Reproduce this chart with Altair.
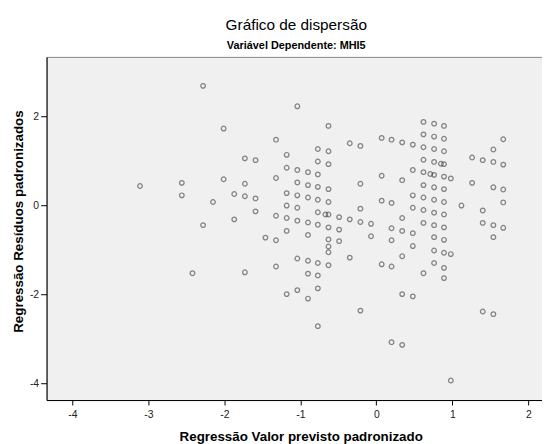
import altair as alt
import pandas as pd

# Standardized predicted value (x) and standardized residual (y)
x_vals = [
    -2.28, -2.01, -3.11, -2.56, -2.56, -2.01, -1.87, -2.15, -1.87, -2.28,
    -2.42, -1.04, -0.63, -1.32, -0.35, -0.21, 0.07, 0.20, 0.34, -0.77,
    -0.63, -1.18, -1.73, -1.59, -0.77, -0.63, -1.18, -1.04, -0.90, -0.77,
    -1.32, 0.07, 0.34, -1.73, -1.04, -0.90, -0.77, -0.63, -0.21, -1.73,
    -1.59, -1.18, -1.04, -0.90, -0.77, -0.63, 0.07, 0.20, -1.18, -1.04,
    -0.21, -1.59, -1.32, -1.18, -1.04, -0.77, -0.67, -0.63, -0.49, -0.35,
    -0.21, -0.07, 0.34, -0.90, -0.77, -0.63, -0.49, -1.18, 0.20, 0.34,
    -1.46, -1.32, -0.90, -0.63, -0.07, -0.49, 0.20, -0.63, -0.63, -1.04,
    -0.90, -0.77, -0.63, -0.35, 0.07, -1.73, -1.32, -0.90, -0.77, -0.77,
    -1.04, -1.18, -0.90, -0.21, -0.77, 0.62, 0.76, 0.89, 0.62, 0.76,
    0.89, 0.48, 0.62, 0.76, 0.89, 1.67, 1.54, 0.62, 0.76, 0.85,
    0.89, 1.26, 1.40, 1.54, 1.67, 0.48, 0.62, 0.71, 0.76, 0.89,
    0.98, 1.26, 0.62, 0.76, 0.89, 1.54, 1.67, 0.48, 0.62, 0.76,
    0.89, 1.67, 1.12, 0.48, 0.62, 0.76, 0.89, 1.40, 0.62, 0.76,
    0.89, 1.40, 1.54, 1.67, 0.48, 0.76, 0.89, 1.54, 0.48, 0.34,
    0.76, 0.89, 0.98, 0.20, 0.62, 0.76, 0.89, 0.89, 0.34, 0.48,
    1.40, 1.54, 0.20, 0.34, 0.98,
]
y_vals = [
    2.69, 1.73, 0.44, 0.51, 0.23, 0.59, 0.26, 0.08, -0.31, -0.44,
    -1.52, 2.23, 1.79, 1.48, 1.40, 1.34, 1.52, 1.48, 1.42, 1.27,
    1.22, 1.14, 1.06, 1.02, 0.99, 0.93, 0.85, 0.80, 0.75, 0.70,
    0.62, 0.67, 0.57, 0.49, 0.52, 0.46, 0.42, 0.37, 0.49, 0.21,
    0.16, 0.28, 0.23, 0.18, 0.13, 0.08, 0.11, 0.06, 0.00, -0.05,
    -0.07, -0.13, -0.23, -0.28, -0.34, -0.15, -0.20, -0.20, -0.26, -0.31,
    -0.37, -0.41, -0.28, -0.38, -0.43, -0.49, -0.54, -0.57, -0.51, -0.57,
    -0.72, -0.78, -0.66, -0.76, -0.69, -0.80, -0.78, -0.92, -1.05, -1.19,
    -1.24, -1.29, -1.34, -1.17, -1.32, -1.50, -1.37, -1.53, -1.57, -1.86,
    -1.90, -1.99, -2.09, -2.36, -2.71, 1.88, 1.84, 1.79, 1.60, 1.55,
    1.50, 1.37, 1.31, 1.27, 1.22, 1.49, 1.26, 1.03, 0.98, 0.94,
    0.93, 1.08, 1.02, 0.98, 0.92, 0.80, 0.75, 0.71, 0.69, 0.65,
    0.61, 0.51, 0.46, 0.41, 0.37, 0.41, 0.36, 0.23, 0.18, 0.13,
    0.08, 0.07, 0.00, -0.05, -0.10, -0.16, -0.20, -0.11, -0.39, -0.44,
    -0.49, -0.39, -0.44, -0.50, -0.62, -0.71, -0.77, -0.71, -0.91, -1.14,
    -1.01, -1.06, -1.09, -1.37, -1.52, -1.29, -1.40, -1.63, -1.99, -2.04,
    -2.38, -2.44, -3.07, -3.13, -3.93,
]

x_ticks = [-4, -3, -2, -1, 0, 1, 2]
y_ticks = [-4, -2, 0, 2]

df = pd.DataFrame({"x": x_vals, "y": y_vals})

FONT = "Liberation Sans"

chart = (
    alt.Chart(df)
    .mark_point(shape="circle", filled=False, size=22, strokeWidth=1.25,
                color="#222222", strokeOpacity=0.75)
    .encode(
        x=alt.X("x:Q",
                scale=alt.Scale(domain=[-4.34, 2.18], nice=False, zero=False),
                axis=alt.Axis(values=x_ticks, title="Regressão Valor previsto padronizado",
                              labelExpr="'' + datum.value",
                              grid=False, tickSize=5, labelPadding=5,
                              titlePadding=9.5, titleX=257)),
        y=alt.Y("y:Q",
                scale=alt.Scale(domain=[-4.37, 3.34], nice=False, zero=False),
                axis=alt.Axis(values=y_ticks, title="Regressão Resíduos padronizados",
                              labelExpr="'' + datum.value",
                              grid=False, tickSize=6, labelPadding=2,
                              titlePadding=4.5, titleY=166)),
    )
    .properties(
        width=501,
        height=347,
        autosize=alt.AutoSizeParams(type="none"),
        padding={"left": 39, "top": 47, "right": 0, "bottom": 42},
        title=alt.TitleParams(
            text="Gráfico de dispersão",
            subtitle="Variável Dependente: MHI5",
            font=FONT, fontSize=15.5, fontWeight="normal", color="#000000",
            subtitleFont=FONT, subtitleFontSize=11, subtitleFontWeight="bold",
            subtitleColor="#000000", subtitlePadding=7,
            anchor="middle", offset=5.5, dx=2,
        ),
    )
    .configure_view(fill="#F0F0F0", stroke="#888888", strokeWidth=1)
    .configure_axis(
        labelFont=FONT, labelFontSize=10.5, labelColor="#222222",
        titleFont=FONT, titleFontSize=13.5, titleFontWeight="bold", titleColor="#000000",
        domainColor="#000000", domainWidth=1, tickColor="#000000", tickWidth=1,
    )
)

chart.save("out.html", embed_options={"renderer": "svg", "actions": False})
